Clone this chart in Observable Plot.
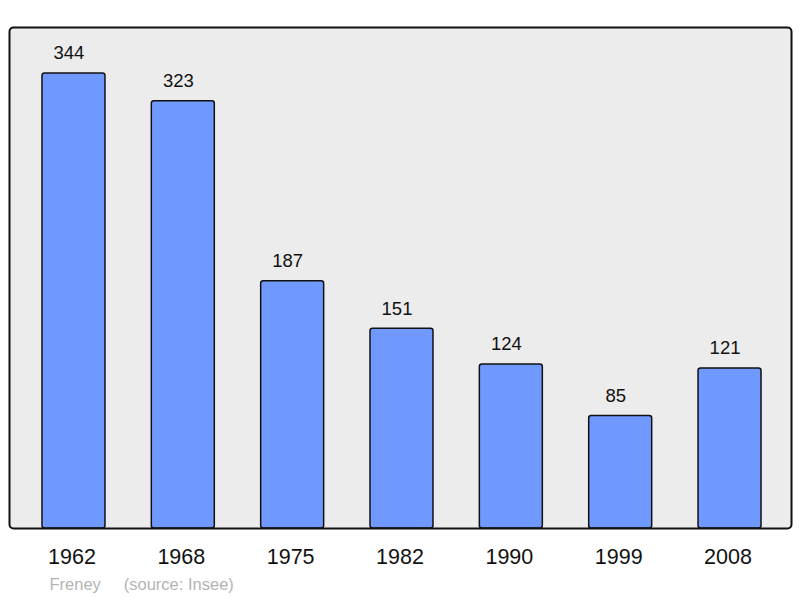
<!DOCTYPE html>
<html>
<head>
<meta charset="utf-8">
<script src="https://cdn.jsdelivr.net/npm/d3@7"></script>
<script src="https://cdn.jsdelivr.net/npm/@observablehq/plot@0.6"></script>
<style>
  html, body { margin: 0; padding: 0; background: #fff; }
  svg { display: block; }
</style>
</head>
<body>
<div id="chart"></div>
<script>
const years = ["1962", "1968", "1975", "1982", "1990", "1999", "2008"];
const population = [344, 323, 187, 151, 124, 85, 121];
const commune = "Freney";
const source = "(source: Insee)";

const data = years.map((y, i) => ({year: y, pop: population[i]}));

const chart = Plot.plot({
  width: 800,
  height: 598,
  marginTop: 27,
  marginBottom: 70,
  marginLeft: 9,
  marginRight: 9,
  style: {fontFamily: "'Liberation Sans', Arial, sans-serif", background: "#fff"},
  x: {domain: years, range: [18.8, 784.2], paddingInner: 0.424, paddingOuter: 0.212, round: false, label: null},
  y: {domain: [0, 378.8], axis: null},
  marks: [
    Plot.frame({fill: "#ececec", stroke: "none", rx: 4}),
    Plot.barY(data, {x: "year", y: "pop", fill: "#7099ff", stroke: "#111", strokeWidth: 1.5, rx: 2.5}),
    Plot.text(data, {x: "year", y: "pop", text: d => String(d.pop), dx: -5, dy: -20, fontSize: 18.5, fill: "#111"}),
    Plot.axisX({tickSize: 0, tickPadding: 20, dx: -2, fontSize: 21.5, color: "#111", label: null}),
    Plot.frame({stroke: "#111", strokeWidth: 2, rx: 4}),
    Plot.text([commune + "\u00a0\u00a0\u00a0\u00a0\u00a0" + source], {frameAnchor: "bottom-left", textAnchor: "start", dx: 40, dy: 56, lineAnchor: "middle", fontSize: 16.5, fill: "#b3b3b3"})
  ]
});
document.getElementById("chart").appendChild(chart);
</script>
</body>
</html>
